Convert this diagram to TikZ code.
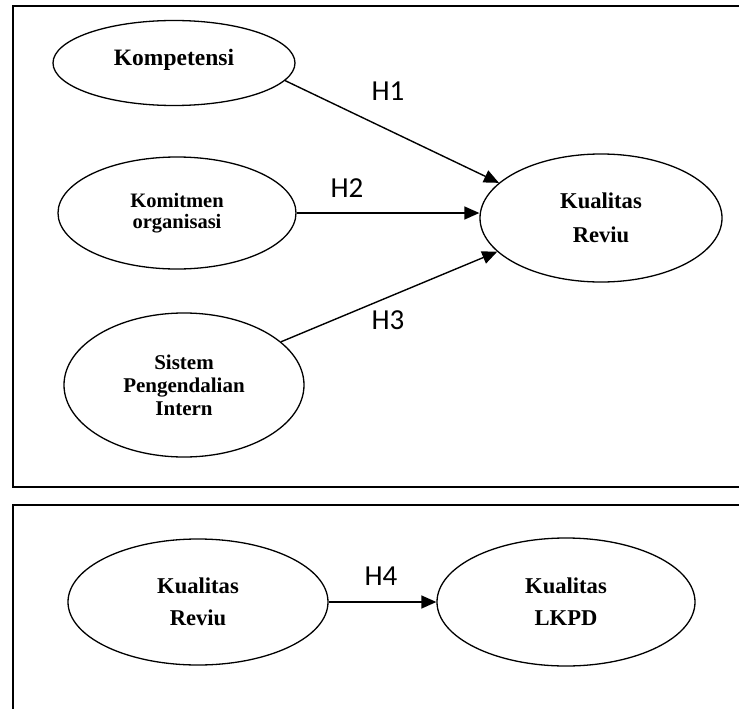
\documentclass[tikz,border=0pt]{standalone}
\usepackage{fontspec}
\usetikzlibrary{shapes.geometric,arrows.meta}
\newfontfamily\tnrfont{Liberation Serif}
\newfontfamily\calfont{Carlito}
\begin{document}
\begin{tikzpicture}[x=1pt,y=-1pt,
  oval/.style={ellipse,draw,line width=1.3pt,inner sep=0pt,align=center},
  hlab/.style={font=\calfont\fontsize{29}{32}\selectfont,anchor=base,inner sep=0pt},
  arr/.style={line width=1.4pt,-{Triangle[length=15pt,width=13pt]}},
  frame/.style={line width=1.6pt}]
\clip (0,0) rectangle (739,709);
\fill[white] (0,0) rectangle (739,709);
\draw[frame] (13,6) rectangle (760,487);
\draw[frame] (13,505) rectangle (760,730);

\node[oval,minimum width=242pt,minimum height=85pt,text depth=11pt,
  font=\tnrfont\bfseries\fontsize{23.5}{28}\selectfont] (komp) at (174,63) {Kompetensi};
\node[oval,minimum width=238pt,minimum height=112pt,
  font=\tnrfont\bfseries\fontsize{20.5}{21}\selectfont] (komit) at (177,213) {Komitmen\\organisasi};
\node[oval,minimum width=240pt,minimum height=144pt,
  font=\tnrfont\bfseries\fontsize{21}{23}\selectfont] (spi) at (184,385) {Sistem\\Pengendalian\\Intern};
\node[oval,minimum width=242pt,minimum height=128pt,
  font=\tnrfont\bfseries\fontsize{22.6}{34}\selectfont] (rev) at (601,218) {Kualitas\\Reviu};
\node[oval,minimum width=260pt,minimum height=126pt,
  font=\tnrfont\bfseries\fontsize{22.6}{32}\selectfont] (rev2) at (198,602) {Kualitas\\Reviu};
\node[oval,minimum width=258pt,minimum height=128pt,
  font=\tnrfont\bfseries\fontsize{22.6}{32}\selectfont] (lkpd) at (566,602) {Kualitas\\LKPD};

\draw[arr] (komp.-9) -- (rev.161);
\draw[arr] (komit.east) -- (komit.east -| rev.west);
\draw[arr] (spi.24) -- (rev.198);
\draw[arr] (rev2.east) -- (lkpd.west);

\node[hlab] (h1) at (388,100) {H1};
\node[hlab] (h2) at (347,197) {H2};
\node[hlab] (h3) at (388,329) {H3};
\node[hlab] (h4) at (381,585) {H4};
\end{tikzpicture}
\end{document}
